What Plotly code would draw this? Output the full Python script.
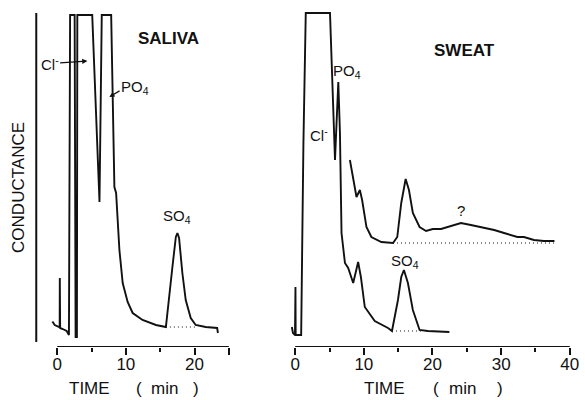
import plotly.graph_objects as go

# ---- data (time in min, conductance in arbitrary units) ----
saliva_time = [-0.70, -0.36, 0.29, 0.36, 0.38, 0.43, 0.80, 1.38, 1.71, 1.88, 2.54, 2.68, 2.87, 2.93,
               5.10, 6.16, 6.49, 7.86, 8.33, 8.58, 9.06, 9.54, 10.26, 10.99, 12.43, 14.38, 15.83,
               16.30, 16.78, 17.28, 17.51, 17.75, 18.23, 18.72, 19.45, 20.17, 21.62, 23.30, 23.41]
saliva_cond = [25.5, 22, 20, 20, 69, 19, 18, 16, 12, 332, 332, 10, 10, 332,
               332, 145, 332, 332, 160, 154, 97, 64, 45, 34, 27, 22, 20,
               47, 80, 110, 114, 109, 74, 47, 29, 22, 20, 19, 14]

sweat_time = [-0.49, -0.32, -0.03, 0.00, 0.04, 0.07, 0.87, 1.20, 1.54, 5.07, 5.80, 6.28, 6.52, 6.75,
              7.25, 7.72, 8.45, 9.17, 9.57, 10.14, 11.59, 13.52, 14.10, 14.97, 15.45, 15.84, 16.42,
              17.14, 18.12, 19.32, 22.46]
sweat_cond = [20, 14, 12, 60, 60, 12, 12, 204, 334, 334, 187, 265, 214, 114,
              84, 79, 64, 85, 70, 40, 26, 19, 16, 47, 70, 77, 64,
              37, 17, 16, 15]

sweat_exp_time = [7.97, 8.45, 8.93, 9.42, 9.75, 10.38, 11.10, 12.55, 14.25, 14.87, 15.45, 16.09,
                  16.57, 17.14, 18.12, 19.07, 20.04, 21.25, 22.70, 24.14, 25.59, 27.54, 28.99,
                  30.43, 32.36, 33.33, 34.78, 36.23, 37.77]
sweat_exp_cond = [187, 167, 150, 157, 147, 120, 110, 105, 104, 110, 144, 168,
                  157, 134, 120, 116, 118, 118, 121, 124, 122, 119, 117,
                  114, 110, 110, 107, 106, 106]

saliva_base_time = [15.83, 20.2]
saliva_base_cond = [20, 20]
sweat_base_time = [14.1, 18.5]
sweat_base_cond = [16, 16]
sweat_exp_base_time = [14.25, 37.77]
sweat_exp_base_cond = [104, 104]

left_ticks = [0, 10, 20, 25]
left_ticktext = ["0", "10", "20", ""]
left_minor = [5, 15]
right_ticks = [0, 10, 20, 30, 40]
right_minor = [5, 15, 25, 35]

FONT = "Liberation Sans, Arial, Helvetica, sans-serif"
INK = "#111111"

fig = go.Figure()
line = dict(color=INK, width=1.9)
dot = dict(color=INK, width=1, dash="1px,3px")

fig.add_trace(go.Scatter(x=saliva_time, y=saliva_cond, mode="lines", line=line, xaxis="x", yaxis="y"))
fig.add_trace(go.Scatter(x=saliva_base_time, y=saliva_base_cond, mode="lines", line=dot, xaxis="x", yaxis="y"))
fig.add_trace(go.Scatter(x=sweat_time, y=sweat_cond, mode="lines", line=line, xaxis="x2", yaxis="y2"))
fig.add_trace(go.Scatter(x=sweat_exp_time, y=sweat_exp_cond, mode="lines", line=line, xaxis="x2", yaxis="y2"))
fig.add_trace(go.Scatter(x=sweat_base_time, y=sweat_base_cond, mode="lines", line=dot, xaxis="x2", yaxis="y2"))
fig.add_trace(go.Scatter(x=sweat_exp_base_time, y=sweat_exp_base_cond, mode="lines", line=dot, xaxis="x2", yaxis="y2"))

axis_common = dict(showgrid=False, zeroline=False, showline=False, ticks="outside",
                   ticklen=7, tickwidth=2, tickcolor=INK, ticklabelstandoff=-5,
                   tickfont=dict(family=FONT, size=17, color=INK), fixedrange=True)

fig.update_layout(
    width=585, height=400,
    margin=dict(l=0, r=0, t=5, b=53),
    paper_bgcolor="white", plot_bgcolor="white",
    showlegend=False,
    xaxis=dict(domain=[0.0511, 0.3991], range=[-4, 25.5], anchor="y",
               tickmode="array", tickvals=left_ticks, ticktext=left_ticktext,
               minor=dict(tickmode="array", tickvals=left_minor, ticks="outside", ticklen=4,
                          tickwidth=1.5, tickcolor=INK),
               **axis_common),
    xaxis2=dict(domain=[0.4954, 0.9908], range=[-1, 41], anchor="y2",
                tickmode="array", tickvals=right_ticks,
                minor=dict(tickmode="array", tickvals=right_minor, ticks="outside", ticklen=4,
                           tickwidth=1.5, tickcolor=INK),
                **axis_common),
    yaxis=dict(range=[0, 342], visible=False, anchor="x", fixedrange=True),
    yaxis2=dict(range=[0, 342], visible=False, anchor="x2", fixedrange=True),
)

# axis baselines and the conductance reference line
fig.add_shape(type="line", xref="x", yref="y", x0=0, x1=25, y0=0, y1=0, line=dict(color=INK, width=2))
fig.add_shape(type="line", xref="x2", yref="y2", x0=0, x1=40, y0=0, y1=0, line=dict(color=INK, width=2))
fig.add_shape(type="line", xref="x", yref="y", x0=-3.05, x1=-3.05, y0=5, y1=334, line=dict(color=INK, width=2))

def ann(text, x, y, xref="x", yref="y", size=15, bold=False, **kw):
    t = f"<b>{text}</b>" if bold else text
    fig.add_annotation(text=t, x=x, y=y, xref=xref, yref=yref, showarrow=False,
                       xanchor="center", yanchor="middle",
                       font=dict(family=FONT, size=size, color=INK), **kw)

def arrow(x, y, ax, ay):
    fig.add_annotation(x=x, y=y, ax=ax, ay=ay, xref="x", yref="y", axref="x", ayref="y",
                       text=" ", showarrow=True, arrowhead=2, arrowsize=0.8, arrowwidth=1.3,
                       arrowcolor=INK, font=dict(size=1))

# left panel labels
ann("SALIVA", 16.2, 309, size=17, bold=True)
ann("Cl<sup>-</sup>", -1.1, 284, size=15)
arrow(4.4, 286, 0.2, 284)
ann("PO<sub>4</sub>", 11.3, 260, size=15)
arrow(7.6, 250, 9.3, 257)
ann("SO<sub>4</sub>", 17.5, 131, size=15)

# right panel labels
ann("SWEAT", 24.7, 297, xref="x2", yref="y2", size=17, bold=True)
ann("PO<sub>4</sub>", 7.6, 276, xref="x2", yref="y2", size=15)
ann("Cl<sup>-</sup>", 3.4, 213, xref="x2", yref="y2", size=15)
ann("?", 24.1, 137, xref="x2", yref="y2", size=15)
ann("SO<sub>4</sub>", 16.0, 86, xref="x2", yref="y2", size=15)

# axis titles
ann("CONDUCTANCE", 18 / 585, (347 - 187) / 342, xref="paper", yref="paper", size=17, textangle=-90)
for txt, px in [("TIME", 90), ("(", 140), ("min", 165), (")", 197)]:
    ann(txt, px / 585, -41 / 342, xref="paper", yref="paper", size=17)
for txt, px in [("TIME", 386), ("(", 438), ("min", 465), (")", 503)]:
    ann(txt, px / 585, -41 / 342, xref="paper", yref="paper", size=17)

fig.write_html("out.html")
